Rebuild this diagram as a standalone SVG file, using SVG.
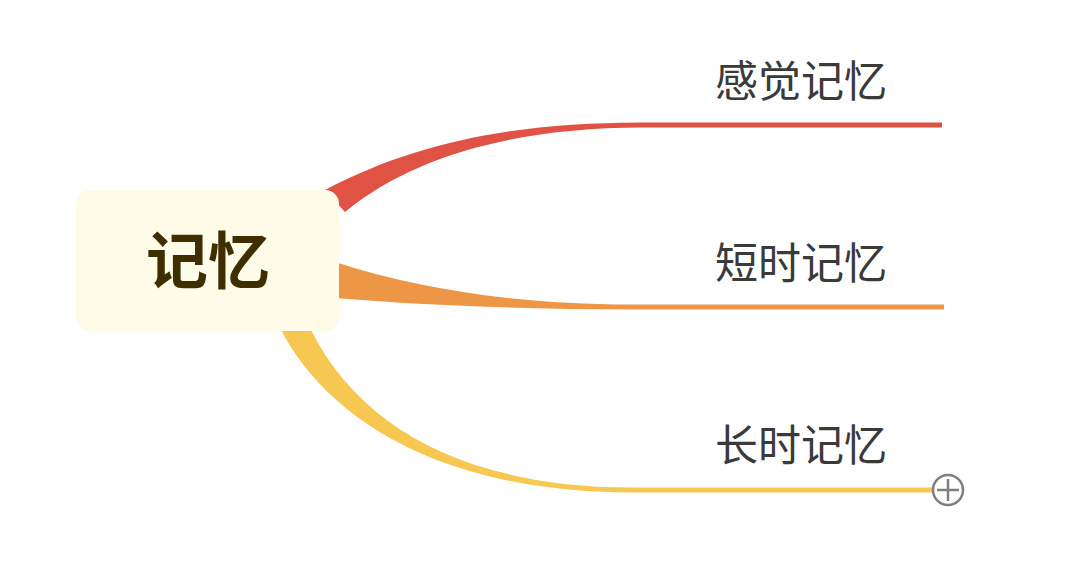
<svg xmlns="http://www.w3.org/2000/svg" width="1080" height="573" viewBox="0 0 1080 573">
<style>
.lbl{font-family:"Noto Sans CJK SC","Noto Sans",sans-serif;font-size:43px;fill:#3a3a3a}
.root{font-family:"Noto Sans CJK SC","Noto Sans",sans-serif;font-size:62px;font-weight:bold;fill:#3f2f00}
</style>
<rect width="1080" height="573" fill="#ffffff"/>
<g id="connectors">
<path d="M325,190 C420,140 520,123 640,122.5 L942,122.5 L942,127.5 L640,127.5 C530,128 420,150 345,212 Z" fill="#e05244"/>
<path d="M335,262 C420,290 520,304 630,304.5 L944,304.5 L944,309.5 L630,309.5 C520,309 420,305 335,298 Z" fill="#ed9646"/>
<path d="M280,328 C330,425 450,492 630,492.5 L934,492.5 L934,487.5 L630,487.5 C470,487 360,430 310,328 Z" fill="#f6c852"/>
</g>
<g id="root">
<rect x="76" y="190" width="263" height="141" rx="14" fill="#fffbe9"/>
<text class="root" x="208" y="284" text-anchor="middle">记忆</text>
</g>
<g id="n1"><text class="lbl" x="715" y="97">感觉记忆</text></g>
<g id="n2"><text class="lbl" x="715" y="279">短时记忆</text></g>
<g id="n3"><text class="lbl" x="715" y="461">长时记忆</text>
<circle cx="948" cy="490" r="15" fill="#ffffff" stroke="#7f7f7f" stroke-width="2.5"/>
<path d="M937,490 H959 M948,479 V501" stroke="#7f7f7f" stroke-width="2.5"/>
</g>
</svg>
